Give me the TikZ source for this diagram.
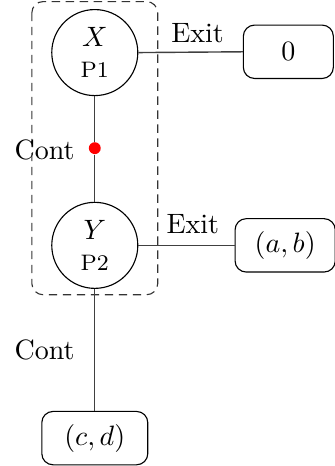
\documentclass[tikz,border=0pt]{standalone}
\usepackage{amsmath,amssymb}
\usetikzlibrary{positioning,calc}
\tikzset{
  st/.style={draw,circle,minimum size=1.08cm,inner sep=0pt,align=center},
  res/.style={draw,rounded corners=4pt,minimum height=.67cm,inner xsep=7pt},
  ln/.style={draw=black!75,line width=.5pt},
  rdot/.style={circle,fill=red,inner sep=1.5pt},
  lbl/.style={font=\normalsize},
}
\begin{document}
\begin{tikzpicture}
  \useasboundingbox (0,0) rectangle (4.20,-5.85);
  % group of the two states
  \draw[dash pattern=on 3pt off 2pt,rounded corners=4pt,black!80]
        (.40,-.02) rectangle (1.98,-3.70);
  \node[st] (X) at (1.19,-.66){$X$\\[-1pt]{\footnotesize P1}};
  \node[st] (Y) at (1.19,-3.08){$Y$\\[-1pt]{\footnotesize P2}};
  \node[rdot] (m) at (1.19,-1.86){};
  \node[res,minimum width=1.13cm] (zero) at (3.62,-.65){$0$};
  \node[res] (ab) at (3.58,-3.08){$(a,b)$};
  \node[res,minimum width=1.33cm] (cd) at (1.19,-5.50){$(c,d)$};
  \draw[ln] (X)--(m)--(Y);
  \draw[ln] (X.east)--(zero.west);
  \draw[ln] (Y.east)--(ab.west);
  \draw[ln] (Y)--(cd);
  \node[lbl] at (.56,-1.88){Cont};
  \node[lbl] at (.56,-4.39){Cont};
  \node[lbl] at (2.48,-.42){Exit};
  \node[lbl] at (2.42,-2.81){Exit};
\end{tikzpicture}
\end{document}
